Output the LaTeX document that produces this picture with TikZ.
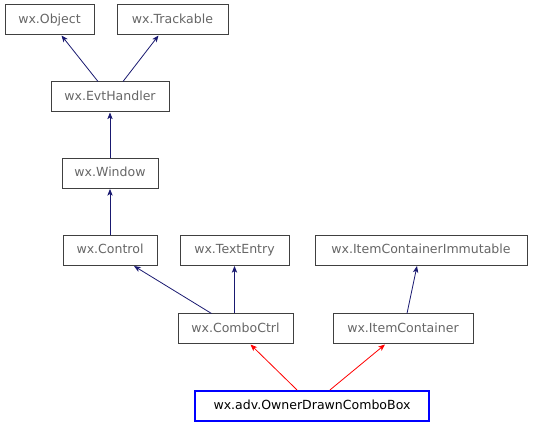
\documentclass[tikz,border=0pt]{standalone}
\usepackage{fontspec}
\setmainfont{DejaVu Sans}
\usetikzlibrary{arrows.meta}
\definecolor{edgeblue}{HTML}{191970}
\definecolor{labelgray}{HTML}{666666}
\definecolor{boxgray}{HTML}{404040}
\begin{document}
\begin{tikzpicture}[x=0.75pt, y=-0.75pt,
    cls/.style={draw=boxgray, line width=0.75pt, text=labelgray, font=\fontsize{9.4}{11}\selectfont, inner sep=0pt, text height=7pt, text depth=2pt, minimum height=22.5pt},
    this/.style={cls, draw=blue, line width=1.6pt, text=black},
    inherit/.style={edgeblue, line width=0.6pt, -{Stealth[length=5pt, width=4pt, inset=1.3pt]}},
    inheritred/.style={inherit, red}]
    \useasboundingbox (0,0) rectangle (533,427);

    % Classes
    \node[cls, minimum width=66.75pt] (object) at (49.5,20) {wx.Object};
    \node[cls, minimum width=83.25pt] (trackable) at (172.5,20) {wx.Trackable};
    \node[cls, minimum width=88.5pt] (evthandler) at (110,97) {wx.EvtHandler};
    \node[cls, minimum width=72pt] (window) at (110,173.5) {wx.Window};
    \node[cls, minimum width=70.5pt] (control) at (110,250.5) {wx.Control};
    \node[cls, minimum width=81.75pt] (textentry) at (234.5,250.5) {wx.TextEntry};
    \node[cls, minimum width=159pt] (immutable) at (421,250.5) {wx.ItemContainerImmutable};
    \node[cls, minimum width=86.25pt] (comboctrl) at (235.5,329) {wx.ComboCtrl};
    \node[cls, minimum width=105pt] (itemcontainer) at (403,329) {wx.ItemContainer};
    \node[this, minimum width=175.5pt] (combobox) at (312,406) {wx.adv.OwnerDrawnComboBox};

    % Inheritance
    \draw[inherit] ([xshift=-9pt]evthandler.north) -- ([xshift=9pt]object.south);
    \draw[inherit] ([xshift=9.75pt]evthandler.north) -- ([xshift=-10.5pt]trackable.south);
    \draw[inherit] (window) -- (evthandler);
    \draw[inherit] (control) -- (window);
    \draw[inherit] ([xshift=-18pt]comboctrl.north) -- ([xshift=18pt]control.south);
    \draw[inherit] ([xshift=-0.75pt]comboctrl.north) -- (textentry.south);
    \draw[inherit] ([xshift=3pt]itemcontainer.north) -- ([xshift=-3pt]immutable.south);
    \draw[inheritred] ([xshift=-11.25pt]combobox.north) -- ([xshift=11.25pt]comboctrl.south);
    \draw[inheritred] ([xshift=13.5pt]combobox.north) -- ([xshift=-13.5pt]itemcontainer.south);
\end{tikzpicture}
\end{document}
